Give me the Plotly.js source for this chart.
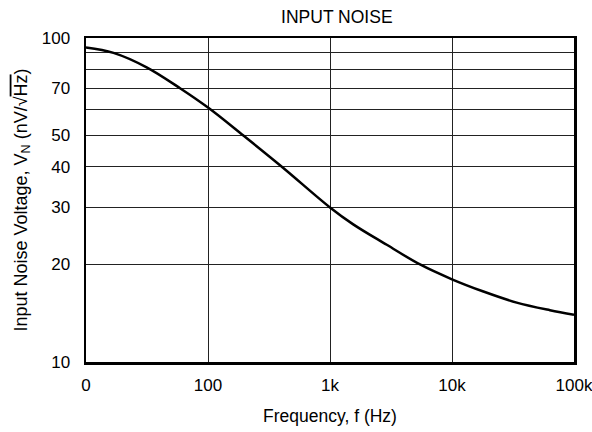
<!DOCTYPE html>
<html>
<head>
<meta charset="utf-8">
<script src="https://cdn.plot.ly/plotly-3.0.1.min.js"></script>
<style>html,body{margin:0;padding:0;background:#fff;}#chart{width:592px;height:432px;}</style>
</head>
<body>
<div id="chart"></div>
<script>
const freqHz = [10, 16.8, 31.4, 59, 100, 195, 405, 1000, 1550, 2920, 5470, 10000, 18100, 33900, 63500, 100000];
const noiseNv = [93.5, 90, 81.2, 70, 61, 50, 40, 30, 26.6, 23.0, 20, 18.0, 16.5, 15.25, 14.45, 14.0];
const xTickVals = [10, 100, 1000, 10000, 100000];
const xTickText = ['0', '100', '1k', '10k', '100k'];
const yTickVals = [10, 20, 30, 40, 50, 60, 70, 80, 90, 100];
const yTickText = ['10', '20', '30', '40', '50', '', '70', '', '', '100'];

const fam = 'Liberation Sans, Arial, sans-serif';

Plotly.newPlot('chart', [{
  x: freqHz, y: noiseNv, type: 'scatter', mode: 'lines',
  line: {color: '#000', width: 2.5, shape: 'spline', smoothing: 1},
  hoverinfo: 'none'
}], {
  width: 592, height: 432,
  margin: {l: 86, r: 18, t: 38, b: 70},
  paper_bgcolor: '#fff', plot_bgcolor: '#fff',
  showlegend: false,
  font: {family: fam, size: 17, color: '#000'},
  title: {text: 'INPUT NOISE', font: {family: fam, size: 17.5, color: '#000'}, x: 0.569, xanchor: 'center', y: 0.96, yanchor: 'middle'},
  xaxis: {
    type: 'log', range: [1, 5],
    tickvals: xTickVals, ticktext: xTickText,
    showgrid: true, gridcolor: '#222', gridwidth: 1,
    showline: true, linecolor: '#000', linewidth: 2.5, mirror: true,
    ticks: '', ticklen: 0, zeroline: false, ticklabelstandoff: 6,
    ticklabeloverflow: 'allow',
    tickfont: {family: fam, size: 17, color: '#000'},
    title: {text: 'Frequency, f (Hz)', font: {family: fam, size: 17.5, color: '#000'}, standoff: 16}
  },
  yaxis: {
    type: 'log', range: [1, 2],
    tickvals: yTickVals, ticktext: yTickText,
    showgrid: true, gridcolor: '#222', gridwidth: 1,
    showline: true, linecolor: '#000', linewidth: 2.5, mirror: true,
    ticks: '', ticklen: 0, zeroline: false, ticklabelstandoff: 10,
    ticklabeloverflow: 'allow',
    tickfont: {family: fam, size: 17, color: '#000'},
    title: {text: 'Input Noise Voltage, V<sub>N</sub> (nV/√<span style="text-decoration:overline">Hz</span>)', font: {family: fam, size: 18, color: '#000'}, standoff: 10}
  }
}, {displayModeBar: false, staticPlot: true});
</script>
</body>
</html>
